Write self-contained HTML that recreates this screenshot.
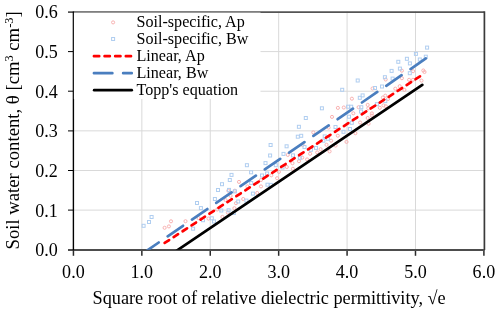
<!DOCTYPE html><html><head><meta charset="utf-8"><style>html,body{margin:0;padding:0;background:#fff;}svg{display:block;}text{font-family:'Liberation Serif','Times New Roman',serif;fill:#000;}</style></head><body>
<svg width="500" height="313" viewBox="0 0 500 313">
<rect width="500" height="313" fill="#fff"/>
<g stroke="#d9d9d9" stroke-width="1">
<line x1="73.44" y1="210.12" x2="484.40" y2="210.12"/>
<line x1="73.44" y1="170.49" x2="484.40" y2="170.49"/>
<line x1="73.44" y1="130.85" x2="484.40" y2="130.85"/>
<line x1="73.44" y1="91.22" x2="484.40" y2="91.22"/>
<line x1="73.44" y1="51.58" x2="484.40" y2="51.58"/>
<line x1="141.85" y1="11.50" x2="141.85" y2="249.76"/>
<line x1="210.26" y1="11.50" x2="210.26" y2="249.76"/>
<line x1="278.67" y1="11.50" x2="278.67" y2="249.76"/>
<line x1="347.08" y1="11.50" x2="347.08" y2="249.76"/>
<line x1="415.49" y1="11.50" x2="415.49" y2="249.76"/>
</g>
<line x1="68" y1="12.1" x2="484.4" y2="12.1" stroke="#555" stroke-width="1.8"/>
<line x1="484.4" y1="11.3" x2="484.4" y2="250" stroke="#3a3a3a" stroke-width="1.7"/>
<g stroke="#000" stroke-width="1">
<line x1="68" y1="210.1" x2="73.4" y2="210.1"/>
<line x1="68" y1="170.5" x2="73.4" y2="170.5"/>
<line x1="68" y1="130.9" x2="73.4" y2="130.9"/>
<line x1="68" y1="91.2" x2="73.4" y2="91.2"/>
<line x1="68" y1="51.6" x2="73.4" y2="51.6"/>
</g>
<g stroke="#2a2a2a" stroke-width="1.5">
<line x1="73.44" y1="249" x2="73.44" y2="255.8"/>
<line x1="141.85" y1="249" x2="141.85" y2="255.8"/>
<line x1="210.26" y1="249" x2="210.26" y2="255.8"/>
<line x1="278.67" y1="249" x2="278.67" y2="255.8"/>
<line x1="347.08" y1="249" x2="347.08" y2="255.8"/>
<line x1="415.49" y1="249" x2="415.49" y2="255.8"/>
<line x1="483.90" y1="249" x2="483.90" y2="255.8"/>
</g>
<line x1="68" y1="250.0" x2="484.4" y2="250.0" stroke="#4d4d4d" stroke-width="2.1"/>
<line x1="73.4" y1="11.5" x2="73.4" y2="250.5" stroke="#000" stroke-width="1.4"/>
<g fill="none" stroke="#f9b2b2" stroke-width="1">
<circle cx="164.6" cy="227.8" r="1.55"/>
<circle cx="168.9" cy="226.4" r="1.55"/>
<circle cx="171.0" cy="221.3" r="1.55"/>
<circle cx="185.5" cy="221.2" r="1.55"/>
<circle cx="198.6" cy="218.1" r="1.55"/>
<circle cx="208.5" cy="218.6" r="1.55"/>
<circle cx="217.2" cy="209.5" r="1.55"/>
<circle cx="222.4" cy="216.9" r="1.55"/>
<circle cx="225.6" cy="200.1" r="1.55"/>
<circle cx="227.8" cy="212.6" r="1.55"/>
<circle cx="228.3" cy="190.7" r="1.55"/>
<circle cx="230.6" cy="195.8" r="1.55"/>
<circle cx="234.9" cy="190.7" r="1.55"/>
<circle cx="236.0" cy="203.2" r="1.55"/>
<circle cx="234.4" cy="208.2" r="1.55"/>
<circle cx="239.0" cy="181.9" r="1.55"/>
<circle cx="243.2" cy="199.0" r="1.55"/>
<circle cx="247.4" cy="186.4" r="1.55"/>
<circle cx="257.2" cy="193.0" r="1.55"/>
<circle cx="261.0" cy="186.4" r="1.55"/>
<circle cx="261.0" cy="180.0" r="1.55"/>
<circle cx="271.3" cy="175.3" r="1.55"/>
<circle cx="277.1" cy="178.2" r="1.55"/>
<circle cx="278.9" cy="171.9" r="1.55"/>
<circle cx="286.8" cy="167.0" r="1.55"/>
<circle cx="287.8" cy="154.9" r="1.55"/>
<circle cx="292.5" cy="163.2" r="1.55"/>
<circle cx="292.9" cy="168.8" r="1.55"/>
<circle cx="299.0" cy="161.2" r="1.55"/>
<circle cx="302.6" cy="145.0" r="1.55"/>
<circle cx="302.2" cy="157.6" r="1.55"/>
<circle cx="307.1" cy="159.4" r="1.55"/>
<circle cx="310.1" cy="153.8" r="1.55"/>
<circle cx="313.3" cy="132.4" r="1.55"/>
<circle cx="317.2" cy="152.4" r="1.55"/>
<circle cx="320.6" cy="149.2" r="1.55"/>
<circle cx="326.5" cy="144.8" r="1.55"/>
<circle cx="329.6" cy="151.4" r="1.55"/>
<circle cx="331.1" cy="140.7" r="1.55"/>
<circle cx="332.0" cy="116.9" r="1.55"/>
<circle cx="328.6" cy="127.6" r="1.55"/>
<circle cx="337.8" cy="135.7" r="1.55"/>
<circle cx="337.9" cy="107.9" r="1.55"/>
<circle cx="343.8" cy="107.5" r="1.55"/>
<circle cx="346.5" cy="141.9" r="1.55"/>
<circle cx="335.6" cy="145.6" r="1.55"/>
<circle cx="351.9" cy="98.7" r="1.55"/>
<circle cx="353.3" cy="113.3" r="1.55"/>
<circle cx="355.4" cy="133.2" r="1.55"/>
<circle cx="358.6" cy="107.2" r="1.55"/>
<circle cx="360.1" cy="122.5" r="1.55"/>
<circle cx="367.7" cy="104.9" r="1.55"/>
<circle cx="368.3" cy="108.3" r="1.55"/>
<circle cx="371.9" cy="113.4" r="1.55"/>
<circle cx="371.9" cy="115.6" r="1.55"/>
<circle cx="367.7" cy="118.0" r="1.55"/>
<circle cx="368.6" cy="123.7" r="1.55"/>
<circle cx="372.6" cy="88.5" r="1.55"/>
<circle cx="379.8" cy="107.8" r="1.55"/>
<circle cx="383.5" cy="105.4" r="1.55"/>
<circle cx="385.9" cy="106.3" r="1.55"/>
<circle cx="382.9" cy="97.5" r="1.55"/>
<circle cx="385.3" cy="95.7" r="1.55"/>
<circle cx="385.7" cy="79.5" r="1.55"/>
<circle cx="388.0" cy="99.0" r="1.55"/>
<circle cx="395.3" cy="88.7" r="1.55"/>
<circle cx="399.7" cy="86.2" r="1.55"/>
<circle cx="401.9" cy="70.7" r="1.55"/>
<circle cx="401.9" cy="78.2" r="1.55"/>
<circle cx="404.4" cy="89.9" r="1.55"/>
<circle cx="409.1" cy="79.8" r="1.55"/>
<circle cx="413.0" cy="79.8" r="1.55"/>
<circle cx="413.1" cy="71.2" r="1.55"/>
<circle cx="421.5" cy="80.6" r="1.55"/>
<circle cx="423.3" cy="70.5" r="1.55"/>
<circle cx="424.5" cy="72.0" r="1.55"/>
</g>
<g fill="none" stroke="#b0cef0" stroke-width="1">
<rect x="142.1" y="224.3" width="3" height="3"/>
<rect x="147.5" y="220.5" width="3" height="3"/>
<rect x="150.1" y="215.5" width="3" height="3"/>
<rect x="191.6" y="227.2" width="3" height="3"/>
<rect x="195.5" y="201.5" width="3" height="3"/>
<rect x="199.4" y="206.6" width="3" height="3"/>
<rect x="201.5" y="218.7" width="3" height="3"/>
<rect x="212.5" y="220.0" width="3" height="3"/>
<rect x="213.4" y="197.5" width="3" height="3"/>
<rect x="216.5" y="188.5" width="3" height="3"/>
<rect x="219.8" y="209.0" width="3" height="3"/>
<rect x="220.5" y="182.7" width="3" height="3"/>
<rect x="227.1" y="208.8" width="3" height="3"/>
<rect x="227.5" y="188.4" width="3" height="3"/>
<rect x="228.3" y="178.5" width="3" height="3"/>
<rect x="230.0" y="173.4" width="3" height="3"/>
<rect x="232.4" y="211.5" width="3" height="3"/>
<rect x="210.3" y="216.8" width="3" height="3"/>
<rect x="233.4" y="189.9" width="3" height="3"/>
<rect x="236.7" y="200.0" width="3" height="3"/>
<rect x="244.9" y="199.1" width="3" height="3"/>
<rect x="245.4" y="163.7" width="3" height="3"/>
<rect x="249.6" y="170.8" width="3" height="3"/>
<rect x="249.7" y="181.5" width="3" height="3"/>
<rect x="251.4" y="192.1" width="3" height="3"/>
<rect x="260.5" y="174.0" width="3" height="3"/>
<rect x="264.0" y="161.6" width="3" height="3"/>
<rect x="265.6" y="172.0" width="3" height="3"/>
<rect x="266.0" y="183.2" width="3" height="3"/>
<rect x="268.6" y="154.0" width="3" height="3"/>
<rect x="269.4" y="183.4" width="3" height="3"/>
<rect x="274.3" y="163.7" width="3" height="3"/>
<rect x="281.0" y="166.0" width="3" height="3"/>
<rect x="269.1" y="143.5" width="3" height="3"/>
<rect x="282.0" y="152.4" width="3" height="3"/>
<rect x="285.1" y="144.8" width="3" height="3"/>
<rect x="291.5" y="153.9" width="3" height="3"/>
<rect x="298.3" y="156.3" width="3" height="3"/>
<rect x="296.3" y="135.2" width="3" height="3"/>
<rect x="299.7" y="134.3" width="3" height="3"/>
<rect x="297.4" y="125.3" width="3" height="3"/>
<rect x="303.0" y="145.5" width="3" height="3"/>
<rect x="309.4" y="148.3" width="3" height="3"/>
<rect x="314.5" y="146.4" width="3" height="3"/>
<rect x="320.4" y="106.8" width="3" height="3"/>
<rect x="304.3" y="116.5" width="3" height="3"/>
<rect x="323.2" y="134.9" width="3" height="3"/>
<rect x="321.9" y="139.2" width="3" height="3"/>
<rect x="326.4" y="137.3" width="3" height="3"/>
<rect x="334.0" y="125.5" width="3" height="3"/>
<rect x="342.0" y="130.3" width="3" height="3"/>
<rect x="346.6" y="105.2" width="3" height="3"/>
<rect x="349.7" y="105.2" width="3" height="3"/>
<rect x="347.5" y="115.2" width="3" height="3"/>
<rect x="350.3" y="121.3" width="3" height="3"/>
<rect x="348.5" y="127.5" width="3" height="3"/>
<rect x="340.7" y="88.3" width="3" height="3"/>
<rect x="356.2" y="79.0" width="3" height="3"/>
<rect x="358.3" y="96.3" width="3" height="3"/>
<rect x="361.1" y="93.9" width="3" height="3"/>
<rect x="359.8" y="105.7" width="3" height="3"/>
<rect x="359.5" y="110.0" width="3" height="3"/>
<rect x="373.5" y="86.5" width="3" height="3"/>
<rect x="375.4" y="102.7" width="3" height="3"/>
<rect x="380.5" y="85.0" width="3" height="3"/>
<rect x="383.4" y="75.7" width="3" height="3"/>
<rect x="383.8" y="99.6" width="3" height="3"/>
<rect x="391.1" y="77.1" width="3" height="3"/>
<rect x="390.1" y="69.4" width="3" height="3"/>
<rect x="396.8" y="60.3" width="3" height="3"/>
<rect x="398.4" y="67.1" width="3" height="3"/>
<rect x="405.4" y="57.3" width="3" height="3"/>
<rect x="408.4" y="61.9" width="3" height="3"/>
<rect x="408.3" y="71.7" width="3" height="3"/>
<rect x="414.4" y="52.4" width="3" height="3"/>
<rect x="418.3" y="58.0" width="3" height="3"/>
<rect x="424.3" y="55.2" width="3" height="3"/>
<rect x="425.6" y="46.1" width="3" height="3"/>
</g>
<defs><clipPath id="pc"><rect x="73.4" y="11.5" width="411" height="238.3"/></clipPath></defs>
<g clip-path="url(#pc)" fill="none" stroke-linecap="round">
<line x1="143.41" y1="253.05" x2="426.0" y2="58.40" stroke="#4a7ebf" stroke-width="2.7" stroke-dasharray="18.6 10.89"/>
<line x1="164.68" y1="242.95" x2="420.0" y2="76.35" stroke="#ff0000" stroke-width="2.7" stroke-dasharray="5.3 5.4"/>
<line x1="170" y1="255.19" x2="422.3" y2="84.81" stroke="#000" stroke-width="2.7"/>
</g>
<text transform="translate(57.8,249.6) scale(0.95,1)" font-size="19" text-anchor="end" dominant-baseline="central">0.0</text>
<text transform="translate(57.8,209.9) scale(0.95,1)" font-size="19" text-anchor="end" dominant-baseline="central">0.1</text>
<text transform="translate(57.8,170.3) scale(0.95,1)" font-size="19" text-anchor="end" dominant-baseline="central">0.2</text>
<text transform="translate(57.8,130.7) scale(0.95,1)" font-size="19" text-anchor="end" dominant-baseline="central">0.3</text>
<text transform="translate(57.8,91.0) scale(0.95,1)" font-size="19" text-anchor="end" dominant-baseline="central">0.4</text>
<text transform="translate(57.8,51.4) scale(0.95,1)" font-size="19" text-anchor="end" dominant-baseline="central">0.5</text>
<text transform="translate(57.8,11.7) scale(0.95,1)" font-size="19" text-anchor="end" dominant-baseline="central">0.6</text>
<text transform="translate(73.4,278) scale(0.95,1)" font-size="19" text-anchor="middle">0.0</text>
<text transform="translate(141.8,278) scale(0.95,1)" font-size="19" text-anchor="middle">1.0</text>
<text transform="translate(210.3,278) scale(0.95,1)" font-size="19" text-anchor="middle">2.0</text>
<text transform="translate(278.7,278) scale(0.95,1)" font-size="19" text-anchor="middle">3.0</text>
<text transform="translate(347.1,278) scale(0.95,1)" font-size="19" text-anchor="middle">4.0</text>
<text transform="translate(415.5,278) scale(0.95,1)" font-size="19" text-anchor="middle">5.0</text>
<text transform="translate(483.9,278) scale(0.95,1)" font-size="19" text-anchor="middle">6.0</text>
<text transform="translate(92.5,304) scale(0.9625,1)" font-size="19">Square root of relative dielectric permittivity, √e</text>
<text transform="translate(19.2,249.5) rotate(-90)" font-size="18.7">Soil water content, θ [cm<tspan font-size="12.3" dy="-6.2">3</tspan><tspan dy="6.2"> cm</tspan><tspan font-size="12.3" dy="-6.2">-3</tspan><tspan dy="6.2">]</tspan></text>
<rect x="73.9" y="12.6" width="186.6" height="86.4" fill="#fff"/>
<circle cx="113.1" cy="22.4" r="1.55" fill="none" stroke="#f9b2b2" stroke-width="1"/>
<rect x="111.6" y="37.5" width="3" height="3" fill="none" stroke="#b0cef0" stroke-width="1"/>
<line x1="93.95" y1="56.2" x2="131.0" y2="56.2" stroke="#ff0000" stroke-width="2.7" stroke-dasharray="5.25 5.38" stroke-linecap="round"/>
<line x1="93.95" y1="73.2" x2="131.75" y2="73.2" stroke="#4a7ebf" stroke-width="2.7" stroke-dasharray="18.4 10.8" stroke-linecap="round"/>
<line x1="94.15" y1="90.2" x2="131.75" y2="90.2" stroke="#000" stroke-width="2.7" stroke-linecap="round"/>
<text transform="translate(136.5,22.30) scale(0.982,1)" font-size="16.4" dominant-baseline="central">Soil-specific, Ap</text>
<text transform="translate(136.5,38.90) scale(0.982,1)" font-size="16.4" dominant-baseline="central">Soil-specific, Bw</text>
<text transform="translate(136.5,56.10) scale(0.982,1)" font-size="16.4" dominant-baseline="central">Linear, Ap</text>
<text transform="translate(136.5,73.10) scale(0.982,1)" font-size="16.4" dominant-baseline="central">Linear, Bw</text>
<text transform="translate(136.5,90.10) scale(0.982,1)" font-size="16.4" dominant-baseline="central">Topp's equation</text>
</svg></body></html>
